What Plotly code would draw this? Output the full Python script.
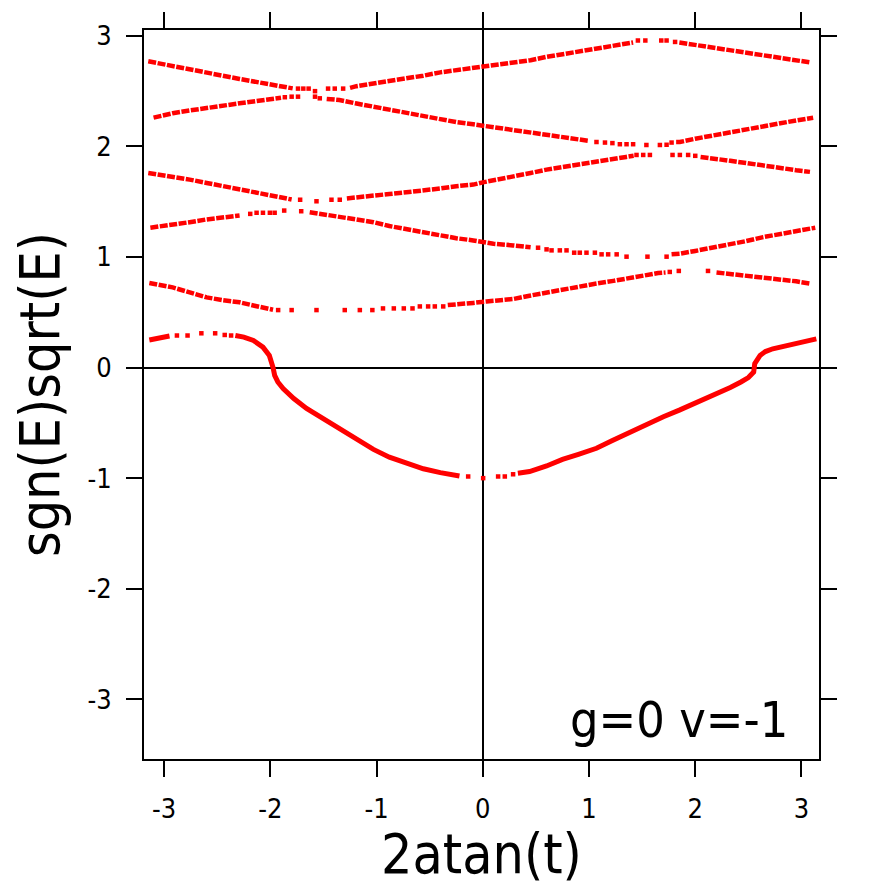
import plotly.graph_objects as go

# ---------------- data ----------------
band0_x = [-3.14, -3.05, -2.95, None, -2.33, -2.25, -2.16, -2.07, -2.01, -1.985, -1.975, -1.96, -1.93, -1.88,
           -1.78, -1.66, -1.5, -1.35, -1.2, -1.03, -0.88, -0.72, -0.56, -0.40, -0.22, None, 0.33, 0.44, 0.6,
           0.75, 0.9, 1.07, 1.22, 1.38, 1.54, 1.70, 1.85, 2.01, 2.17, 2.33, 2.43, 2.50, 2.55, 2.56, 2.61, 2.66,
           2.73, 2.84, 2.95, 3.05, 3.14]
band0_y = [0.25, 0.27, 0.285, None, 0.29, 0.275, 0.245, 0.185, 0.11, 0.05, 0.0, -0.07, -0.13, -0.19,
           -0.28, -0.37, -0.465, -0.56, -0.65, -0.74, -0.81, -0.865, -0.915, -0.95, -0.98, None, -0.955, -0.94,
           -0.89, -0.83, -0.785, -0.73, -0.66, -0.585, -0.515, -0.445, -0.385, -0.32, -0.25, -0.18, -0.13,
           -0.09, -0.04, 0.035, 0.11, 0.145, 0.17, 0.195, 0.215, 0.24, 0.26]
band0_sx = [-2.88, -2.78, -2.65, -2.52, -2.43, -2.37, -0.138, 0.003, 0.144, 0.207, 0.285]
band0_sy = [0.29, 0.29, 0.31, 0.31, 0.295, 0.29, -0.985, -1.0, -0.985, -0.985, -0.965]

band1_x = [-3.14, -3.0, -2.92, -2.76, -2.60, -2.45, -2.29, -2.13, -1.975, None, -0.33, -0.25, -0.09, 0.035,
           0.285, 0.44, 0.60, 0.75, 0.91, 1.07, 1.23, 1.38, 1.54, 1.65, 1.72, None, 2.20, 2.3, 2.48, 2.64,
           2.80, 2.95, 3.08]
band1_y = [0.765, 0.74, 0.725, 0.68, 0.635, 0.61, 0.59, 0.555, 0.523, None, 0.565, 0.575, 0.585, 0.598,
           0.62, 0.65, 0.68, 0.705, 0.733, 0.76, 0.784, 0.81, 0.84, 0.855, 0.86, None, 0.86, 0.85, 0.835,
           0.82, 0.80, 0.78, 0.76]
band1_sx = [-1.927, -1.80, -1.566, -1.30, -1.158, -1.04, -0.94, -0.838, -0.744, -0.662, -0.593, -0.515,
            -0.452, -0.373, 1.76, 1.845, 2.12]
band1_sy = [0.52, 0.52, 0.52, 0.52, 0.52, 0.52, 0.535, 0.535, 0.535, 0.535, 0.553, 0.553, 0.553, 0.553,
            0.865, 0.874, 0.874]

band2_x = [-3.13, -2.92, -2.76, -2.60, -2.45, -2.29, None, -1.63, -1.535, -1.45, -1.35, -1.2, -1.03, -0.88,
           -0.72, -0.56, -0.40, -0.25, -0.09, 0.10, 0.285, 0.45, None, 1.777, 1.855, 2.0, 2.17, 2.33, 2.48,
           2.64, 2.80, 2.95, 3.13]
band2_y = [1.265, 1.29, 1.315, 1.34, 1.36, 1.375, None, 1.405, 1.39, 1.375, 1.36, 1.34, 1.315, 1.28, 1.25,
           1.22, 1.19, 1.17, 1.15, 1.12, 1.105, 1.088, None, 1.024, 1.03, 1.055, 1.085, 1.115, 1.144, 1.18,
           1.21, 1.235, 1.265]
band2_sx = [-2.19, -2.13, -2.07, -2.005, -1.96, -1.87, -1.71, 0.52, 0.60, 0.647, 0.725, 0.788, 0.86, 0.913,
            0.976, 1.055, 1.118, 1.18, 1.26, 1.353, 1.55, 1.73]
band2_sy = [1.39, 1.40, 1.40, 1.40, 1.40, 1.42, 1.414, 1.084, 1.069, 1.06, 1.06, 1.06, 1.039, 1.039, 1.039,
            1.039, 1.024, 1.024, 1.024, 1.003, 1.003, 1.003]

band3_x = [-3.15, -2.92, -2.76, -2.60, -2.45, -2.29, -2.13, -1.975, -1.80, None, -1.28, -1.15, -1.03, -0.88,
           -0.72, -0.56, -0.40, -0.25, -0.09, 0.0, 0.15, 0.285, 0.45, 0.60, 0.75, 0.91, 1.07, 1.23, 1.35,
           1.42, None, 2.05, 2.17, 2.33, 2.48, 2.64, 2.80, 2.95, 3.08]
band3_y = [1.76, 1.73, 1.70, 1.67, 1.64, 1.61, 1.58, 1.55, 1.52, None, 1.53, 1.54, 1.55, 1.57, 1.585, 1.60,
           1.62, 1.64, 1.655, 1.675, 1.70, 1.73, 1.76, 1.79, 1.815, 1.84, 1.865, 1.885, 1.905, 1.915, None,
           1.905, 1.893, 1.87, 1.85, 1.825, 1.80, 1.785, 1.77]
band3_sx = [-1.72, -1.566, -1.425, -1.347, 1.447, 1.51, 1.573, 1.786, 1.855, 1.933, 2.0]
band3_sy = [1.518, 1.504, 1.518, 1.518, 1.923, 1.923, 1.923, 1.923, 1.923, 1.923, 1.915]

band4_x = [-3.10, -2.92, -2.76, -2.60, -2.45, -2.29, -2.13, -1.975, -1.90, None, -1.47, -1.35, -1.2, -1.03,
           -0.88, -0.72, -0.56, -0.40, -0.25, -0.09, 0.1, 0.285, 0.45, 0.60, 0.75, 0.91, 1.0, None, 1.82,
           1.855, 2.0, 2.17, 2.33, 2.48, 2.64, 2.80, 2.95, 3.11]
band4_y = [2.26, 2.30, 2.325, 2.35, 2.37, 2.39, 2.41, 2.43, 2.44, None, 2.43, 2.42, 2.39, 2.36, 2.33, 2.30,
           2.27, 2.245, 2.22, 2.20, 2.175, 2.15, 2.12, 2.10, 2.08, 2.065, 2.05, None, 2.04, 2.04, 2.07, 2.10,
           2.13, 2.16, 2.185, 2.21, 2.235, 2.26]
band4_sx = [-1.864, -1.80, -1.74, -1.58, -1.535, 1.07, 1.15, 1.22, 1.29, 1.353, 1.415, 1.54, 1.667, 1.73, 1.777]
band4_sy = [2.445, 2.45, 2.45, 2.45, 2.435, 2.04, 2.035, 2.03, 2.02, 2.02, 2.02, 2.013, 2.013, 2.015, 2.035]

band5_x = [-3.15, -2.92, -2.76, -2.60, -2.45, -2.29, -2.13, -1.975, -1.85, -1.79, None, -1.25, -1.19, -1.03,
           -0.88, -0.72, -0.56, -0.40, -0.25, -0.09, 0.1, 0.285, 0.45, 0.60, 0.75, 0.91, 1.07, 1.23, 1.35,
           1.415, None, 1.85, 1.92, 2.05, 2.17, 2.33, 2.48, 2.64, 2.80, 2.95, 3.08]
band5_y = [2.77, 2.73, 2.70, 2.67, 2.64, 2.61, 2.585, 2.56, 2.535, 2.525, None, 2.53, 2.545, 2.57, 2.59, 2.61,
           2.64, 2.67, 2.69, 2.71, 2.73, 2.755, 2.78, 2.81, 2.835, 2.86, 2.885, 2.91, 2.93, 2.94, None, 2.94,
           2.93, 2.915, 2.90, 2.875, 2.85, 2.83, 2.81, 2.785, 2.76]
band5_sx = [-1.74, -1.69, -1.64, -1.58, -1.457, -1.394, -1.315, 1.46, 1.53, 1.68, 1.73, 1.81]
band5_sy = [2.523, 2.523, 2.523, 2.50, 2.523, 2.523, 2.523, 2.958, 2.958, 2.958, 2.958, 2.945]

x_ticks = [-3, -2, -1, 0, 1, 2, 3]
x_ticktext = ["-3", "-2", "-1", "0", "1", "2", "3"]
y_ticks = [-3, -2, -1, 0, 1, 2, 3]
y_ticktext = ["-3", "-2", "-1", "0", "1", "2", "3"]
x_title = "2atan(t)"
y_title = "sgn(E)sqrt(E)"
label_text = "g=0 v=-1"

RED = "#ff0000"
FONT = "DejaVu Sans Condensed, Liberation Sans Narrow, DejaVu Sans, sans-serif"

fig = go.Figure()

dense = [(band0_x, band0_y), (band1_x, band1_y), (band2_x, band2_y),
         (band3_x, band3_y), (band4_x, band4_y), (band5_x, band5_y)]
sparse = [(band0_sx, band0_sy), (band1_sx, band1_sy), (band2_sx, band2_sy),
          (band3_sx, band3_sy), (band4_sx, band4_sy), (band5_sx, band5_sy)]

for i, (bx, by) in enumerate(dense):
    if i == 0:
        line = dict(color=RED, width=5)
    else:
        line = dict(color=RED, width=4.5, dash="8px,1.5px")
    fig.add_trace(go.Scatter(x=bx, y=by, mode="lines", line=line,
                             connectgaps=False, showlegend=False, hoverinfo="skip"))
for sx, sy in sparse:
    fig.add_trace(go.Scatter(x=sx, y=sy, mode="markers",
                             marker=dict(symbol="square", size=4.5, color=RED, line=dict(width=0)),
                             showlegend=False, hoverinfo="skip"))

axis_common = dict(
    showgrid=False,
    zeroline=True, zerolinecolor="black", zerolinewidth=1.5,
    showline=True, linecolor="black", linewidth=2, mirror="ticks",
    ticks="outside", ticklen=16, tickwidth=1.5, tickcolor="black",
    tickfont=dict(family=FONT, size=27, color="black"),
)

fig.update_layout(
    width=886, height=886,
    margin=dict(l=144, r=67, t=26, b=127),
    paper_bgcolor="white", plot_bgcolor="white",
    xaxis=dict(range=[-3.19, 3.165], tickvals=x_ticks, ticktext=x_ticktext, ticklabelstandoff=9,
               title=dict(text=x_title, font=dict(family=FONT, size=55, color="black"), standoff=6),
               **axis_common),
    yaxis=dict(range=[-3.54, 3.053], tickvals=y_ticks, ticktext=y_ticktext, ticklabelstandoff=9,
               title=dict(text=y_title, font=dict(family=FONT, size=55, color="black"), standoff=10),
               **axis_common),
    annotations=[dict(text=label_text, xref="paper", yref="paper", x=0.957, y=0.053,
                      xanchor="right", yanchor="middle", showarrow=False,
                      font=dict(family=FONT, size=50, color="black"))],
)

fig.write_html("out.html")
